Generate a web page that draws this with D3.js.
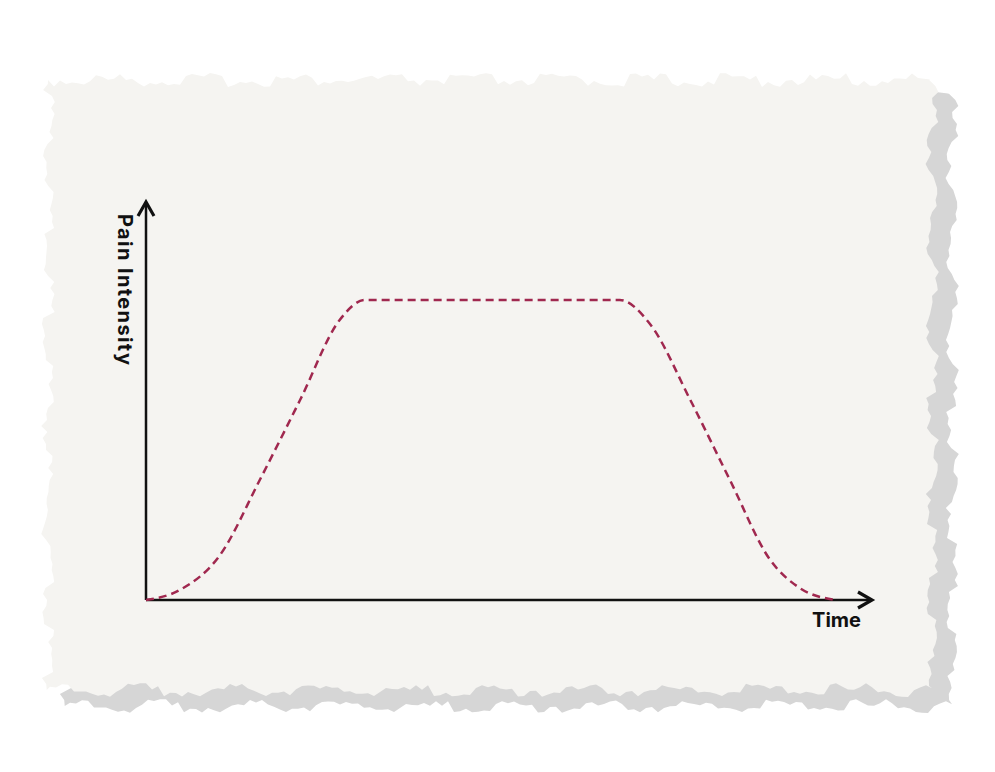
<!DOCTYPE html>
<html><head><meta charset="utf-8">
<script src="https://cdn.jsdelivr.net/npm/d3@7"></script>
<style>body{margin:0;background:#fff}</style>
</head><body><div id="chart"></div>
<script>
// curve: time 0..100, intensity 0..100
var times = [0, 4.7, 10.3, 15.8, 21.4, 26.9, 30.4, 65.8, 70, 75.6, 81.1, 86.7, 90.8, 95.7];
var intensity = [0, 2.5, 11.3, 30, 50, 70, 75, 75, 69, 50, 30, 10, 3, 0];
var xLabel = "Time", yLabel = "Pain Intensity";

var W = 995, H = 772;
var svg = d3.select("#chart").append("svg").attr("width", W).attr("height", H);

// torn paper edge (deterministic jitter)
function jag(i) { return Math.sin(i * 12.9898) * 43758.5453 % 1; }
function paper(x0, y0, x1, y1, dx, dy) {
    var pts = [], i = 0, x, y;
    for (x = x0; x < x1; x += 6) pts.push([x + dx, y0 + dy + jag(i++) * 7]);
    for (y = y0; y < y1; y += 6) pts.push([x1 + dx + jag(i++) * 7, y + dy]);
    for (x = x1; x > x0; x -= 6) pts.push([x + dx, y1 + dy + jag(i++) * 7]);
    for (y = y1; y > y0; y -= 6) pts.push([x0 + dx + jag(i++) * 7, y + dy]);
    return d3.line()(pts) + "Z";
}
svg.append("path").attr("d", paper(52, 82, 938, 694, 14, 12)).attr("fill", "#d6d6d6");
svg.append("path").attr("d", paper(48, 80, 932, 690, 0, 0)).attr("fill", "#f5f4f1");

var x = d3.scaleLinear().domain([0, 100]).range([146, 866]);
var y = d3.scaleLinear().domain([0, 100]).range([600, 200]);

// axes with arrowheads
svg.append("defs").append("marker").attr("id", "arr")
    .attr("viewBox", "0 0 10 10").attr("refX", 8).attr("refY", 5)
    .attr("markerWidth", 8).attr("markerHeight", 8).attr("orient", "auto")
    .append("path").attr("d", "M1,1 L8,5 L1,9").attr("fill", "none")
    .attr("stroke", "#111").attr("stroke-width", 1.6);
svg.append("line").attr("x1", x(0)).attr("y1", y(0)).attr("x2", x(100) + 6).attr("y2", y(0))
    .attr("stroke", "#111").attr("stroke-width", 2.5).attr("marker-end", "url(#arr)");
svg.append("line").attr("x1", x(0)).attr("y1", y(0)).attr("x2", x(0)).attr("y2", y(100) + 2)
    .attr("stroke", "#111").attr("stroke-width", 2.5).attr("marker-end", "url(#arr)");

svg.append("path").datum(times.map(function (t, i) { return [t, intensity[i]]; }))
    .attr("d", d3.line().x(function (d) { return x(d[0]); }).y(function (d) { return y(d[1]); })
        .curve(d3.curveMonotoneX))
    .attr("fill", "none").attr("stroke", "#a0284f").attr("stroke-width", 2.5)
    .attr("stroke-dasharray", "8,5");

svg.append("text").attr("x", 861).attr("y", 627).attr("text-anchor", "end")
    .attr("font-family", "Inter, sans-serif").attr("font-weight", 700).attr("font-size", 20)
    .attr("fill", "#111").text(xLabel);
svg.append("text").attr("transform", "translate(118,214) rotate(90)")
    .attr("font-family", "Inter, sans-serif").attr("font-weight", 700).attr("font-size", 20)
    .attr("textLength", 151).attr("fill", "#111").text(yLabel);
</script></body></html>
